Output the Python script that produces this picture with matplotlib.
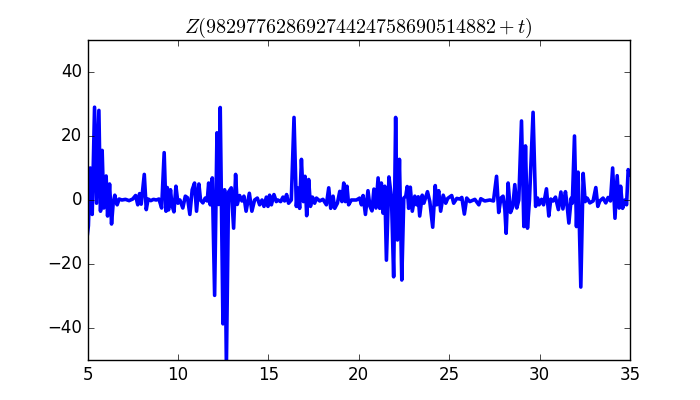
import numpy as np
import matplotlib
matplotlib.use("Agg")
import matplotlib.pyplot as plt

plt.style.use("classic")

# values (t, Z)
t = [5.00, 5.05, 5.15, 5.26, 5.39, 5.50, 5.63, 5.72, 5.81, 5.90,
     6.03, 6.11, 6.22, 6.33, 6.42, 6.51, 6.58, 6.64, 6.75, 6.90,
     7.10, 7.30, 7.50, 7.66, 7.78, 7.88, 7.97, 8.14, 8.25, 8.35,
     8.50, 8.65, 8.80, 8.95, 9.10, 9.24, 9.34, 9.41, 9.48, 9.59,
     9.67, 9.78, 9.89, 10.00, 10.11, 10.27, 10.41, 10.53, 10.66, 10.79,
     10.92, 11.03, 11.16, 11.25, 11.38, 11.51, 11.62, 11.70, 11.79, 11.90,
     12.03, 12.16, 12.25, 12.34, 12.49, 12.58, 12.68, 12.80, 12.95, 13.08,
     13.19, 13.28, 13.41, 13.54, 13.65, 13.77, 13.95, 14.09, 14.24, 14.39,
     14.52, 14.65, 14.76, 14.89, 14.98, 15.07, 15.17, 15.31, 15.44, 15.53,
     15.68, 15.81, 15.90, 16.01, 16.12, 16.27, 16.42, 16.55, 16.64, 16.73,
     16.83, 16.94, 17.03, 17.12, 17.23, 17.33, 17.44, 17.56, 17.66, 17.84,
     18.02, 18.21, 18.34, 18.45, 18.58, 18.67, 18.82, 18.95, 19.07, 19.17,
     19.26, 19.35, 19.44, 19.59, 19.87, 20.05, 20.15, 20.24, 20.37, 20.51,
     20.62, 20.73, 20.84, 20.95, 21.07, 21.16, 21.25, 21.34, 21.44, 21.53,
     21.67, 21.81, 21.93, 22.04, 22.14, 22.25, 22.38, 22.49, 22.60, 22.68,
     22.76, 22.85, 22.96, 23.10, 23.20, 23.29, 23.37, 23.51, 23.60, 23.80,
     23.93, 24.09, 24.23, 24.31, 24.42, 24.53, 24.67, 24.81, 24.92, 25.14,
     25.25, 25.42, 25.59, 25.70, 25.84, 25.97, 26.14, 26.42, 26.64, 26.75,
     26.97, 27.25, 27.45, 27.62, 27.74, 27.86, 27.98, 28.08, 28.15, 28.26,
     28.39, 28.52, 28.63, 28.74, 28.85, 29.00, 29.13, 29.22, 29.33, 29.44,
     29.64, 29.78, 29.89, 29.97, 30.11, 30.22, 30.38, 30.51, 30.62, 30.75,
     30.88, 31.04, 31.18, 31.29, 31.43, 31.51, 31.62, 31.75, 31.81, 31.93,
     32.04, 32.13, 32.28, 32.41, 32.52, 32.63, 32.78, 32.96, 33.11, 33.22,
     33.33, 33.51, 33.66, 33.79, 33.92, 34.04, 34.17, 34.29, 34.40, 34.48,
     34.59, 34.72, 34.81, 34.90, 35.00]
z = [-10.5, -8.0, 10.0, -4.5, 29.0, -1.0, 28.0, -3.5, 15.5, -2.5,
     7.5, -5.0, 5.0, -7.5, -1.0, 1.5, -0.5, -1.5, 0.3, 0.0,
     0.2, -0.2, 0.3, 1.4, -1.5, 2.0, -1.3, 8.0, -3.0, 0.3,
     -0.2, 0.2, 0.0, 0.3, -2.5, 14.8, -3.5, 3.9, -3.1, 3.2,
     -1.6, -3.7, 4.3, -1.0, 0.0, -2.5, 1.2, 0.7, -4.5, 3.2,
     5.3, -3.5, 5.0, 0.0, -0.9, 0.6, -0.3, 5.3, -1.5, 6.9,
     -29.8, 21.0, -1.4, 28.9, -38.7, 3.2, -52.0, 2.5, 3.8, -8.8,
     8.0, -1.4, 1.4, -0.3, 1.2, -3.5, 2.1, -3.5, 0.0, 0.6,
     -1.5, 0.0, -2.0, 0.9, -2.0, 1.5, -1.5, 1.7, -0.5, 0.0,
     -0.5, 0.9, -0.3, 1.7, -1.0, 0.0, 25.8, -2.0, 3.7, -2.6,
     12.7, -0.5, 7.4, -4.9, 6.4, -2.0, 0.9, -1.0, 0.6, -0.3,
     0.2, -1.5, 3.8, -2.6, 1.2, -2.6, -1.0, 2.7, -0.5, 5.3,
     -0.5, 4.3, -1.5, 0.0, 0.0, 0.6, -1.5, 1.4, -4.5, 2.9,
     -2.0, -3.4, 3.4, -2.5, 6.9, -2.6, 5.3, -4.1, 4.3, -18.8,
     7.2, 0.6, -24.0, 25.8, -12.5, 12.7, -25.0, 0.6, 1.2, 4.2,
     -2.6, 4.0, -3.5, 1.2, -1.5, 1.0, -5.0, 1.5, -1.0, 2.6,
     -0.5, -8.5, 4.5, -1.5, 2.9, -3.5, 1.5, -1.0, 0.5, 1.4,
     -1.0, 0.5, 0.3, 0.8, -4.4, 0.6, -0.5, 0.2, -1.5, 0.4,
     -0.3, 0.0, -0.3, 7.4, -3.9, 0.6, 1.2, -3.0, -10.4, 5.3,
     -3.9, -2.0, 4.8, -2.5, 0.0, 24.7, -8.3, 16.9, -8.8, 0.0,
     27.4, -2.0, 0.6, -1.5, 0.2, -1.5, 3.5, -5.0, 0.3, -0.3,
     0.9, -3.0, 2.5, -2.8, 2.6, -1.0, -7.2, 0.6, -1.0, 20.0,
     -8.3, 8.7, -27.2, 8.3, -0.5, 0.6, -0.9, -0.3, 3.9, -2.0,
     -0.3, 0.6, -0.9, 0.8, -0.3, 10.0, -5.7, 7.6, -2.5, 4.3,
     -2.6, 0.0, -1.5, 9.5, 8.0]

fig = plt.figure(figsize=(7, 4), dpi=100)
ax = fig.add_subplot(111)
ax.plot(t, z, color="b", linewidth=2.6, solid_joinstyle="round")
ax.set_xlim(5, 35)
ax.set_ylim(-50, 50)
ax.set_yticks([-40, -20, 0, 20, 40])
ax.set_title(r"$Z(98297762869274424758690514882+t)$")
fig.subplots_adjust(left=0.125, right=0.9, bottom=0.1, top=0.9)
fig.savefig("out.png", dpi=100)
